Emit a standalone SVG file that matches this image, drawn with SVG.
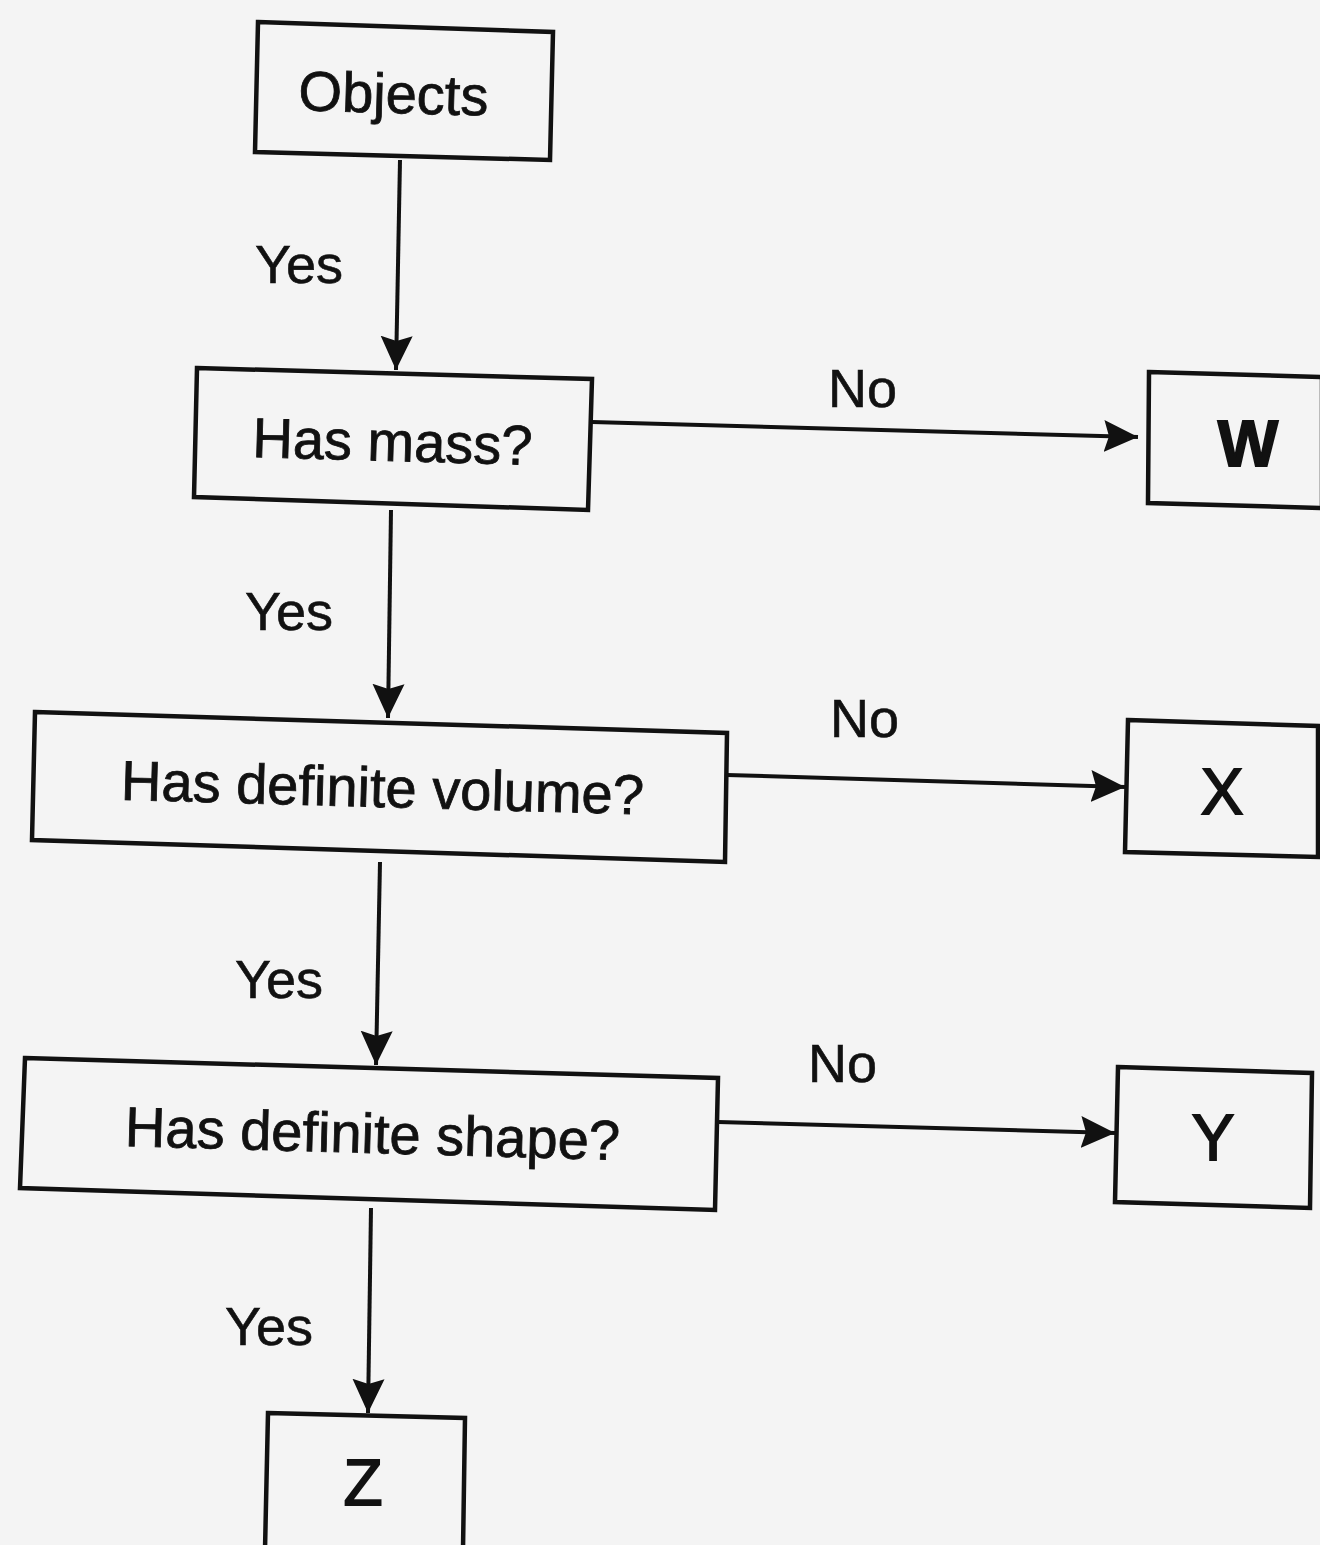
<svg xmlns="http://www.w3.org/2000/svg" width="1320" height="1545" viewBox="0 0 1320 1545">
<style>
.box{fill:#f4f4f4;stroke:#111;stroke-width:4.5;stroke-linejoin:miter}
.t{font-family:"Liberation Sans",Arial,sans-serif;font-size:56px;fill:#111;text-anchor:middle;stroke:#111;stroke-width:0.8}
.big{font-size:64px;stroke-width:1.8}
.lbl{font-family:"Liberation Sans",Arial,sans-serif;font-size:54px;fill:#111;stroke:#111;stroke-width:0.6}
.c{stroke:#111;stroke-width:4;fill:none}
</style>
<defs>
<marker id="ah" markerUnits="userSpaceOnUse" markerWidth="36" markerHeight="36" viewBox="0 0 36 36" refX="34" refY="18" orient="auto">
<path d="M0,2 L34,18 L0,34 L5,18 Z" fill="#111"/>
</marker>
</defs>
<rect width="1320" height="1545" fill="#f4f4f4"/>
<g id="connectors">
<line class="c" x1="400" y1="160" x2="396" y2="370" marker-end="url(#ah)"/>
<line class="c" x1="592" y1="422" x2="1138" y2="437" marker-end="url(#ah)"/>
<line class="c" x1="391" y1="510" x2="388" y2="718" marker-end="url(#ah)"/>
<line class="c" x1="727" y1="775" x2="1125" y2="787" marker-end="url(#ah)"/>
<line class="c" x1="380" y1="862" x2="376" y2="1065" marker-end="url(#ah)"/>
<line class="c" x1="718" y1="1122" x2="1115" y2="1133" marker-end="url(#ah)"/>
<line class="c" x1="371" y1="1208" x2="368" y2="1413" marker-end="url(#ah)"/>
<text class="lbl" x="255" y="283">Yes</text>
<text class="lbl" x="245" y="630">Yes</text>
<text class="lbl" x="235" y="998">Yes</text>
<text class="lbl" x="225" y="1345">Yes</text>
<text class="lbl" x="828" y="407">No</text>
<text class="lbl" x="830" y="737">No</text>
<text class="lbl" x="808" y="1082">No</text>
</g>
<g id="objects">
<polygon class="box" points="258,22 553,32 550,160 255,152"/>
<text class="t" x="393" y="113" transform="rotate(1.6 393 113)">Objects</text>
</g>
<g id="has-mass">
<polygon class="box" points="197,368 592,379 588,510 194,497"/>
<text class="t" x="392" y="461" transform="rotate(1.6 392 461)">Has mass?</text>
</g>
<g id="w">
<polygon class="box" points="1149,372 1322,377 1322,508 1148,503"/>
<text class="t big" x="1248" y="466" font-weight="bold">W</text>
</g>
<g id="has-definite-volume">
<polygon class="box" points="35,712 727,733 725,862 32,840"/>
<text class="t" x="382" y="807" transform="rotate(1.6 382 807)">Has definite volume?</text>
</g>
<g id="x">
<polygon class="box" points="1128,720 1318,726 1318,857 1125,852"/>
<text class="t big" x="1222" y="814">X</text>
</g>
<g id="has-definite-shape">
<polygon class="box" points="25,1058 718,1078 715,1210 20,1188"/>
<text class="t" x="372" y="1153" transform="rotate(1.6 372 1153)">Has definite shape?</text>
</g>
<g id="y">
<polygon class="box" points="1118,1067 1312,1073 1310,1208 1115,1202"/>
<text class="t big" x="1213" y="1160">Y</text>
</g>
<g id="z">
<polygon class="box" points="268,1413 465,1418 463,1550 265,1550"/>
<text class="t big" x="363" y="1505">Z</text>
</g>
</svg>
